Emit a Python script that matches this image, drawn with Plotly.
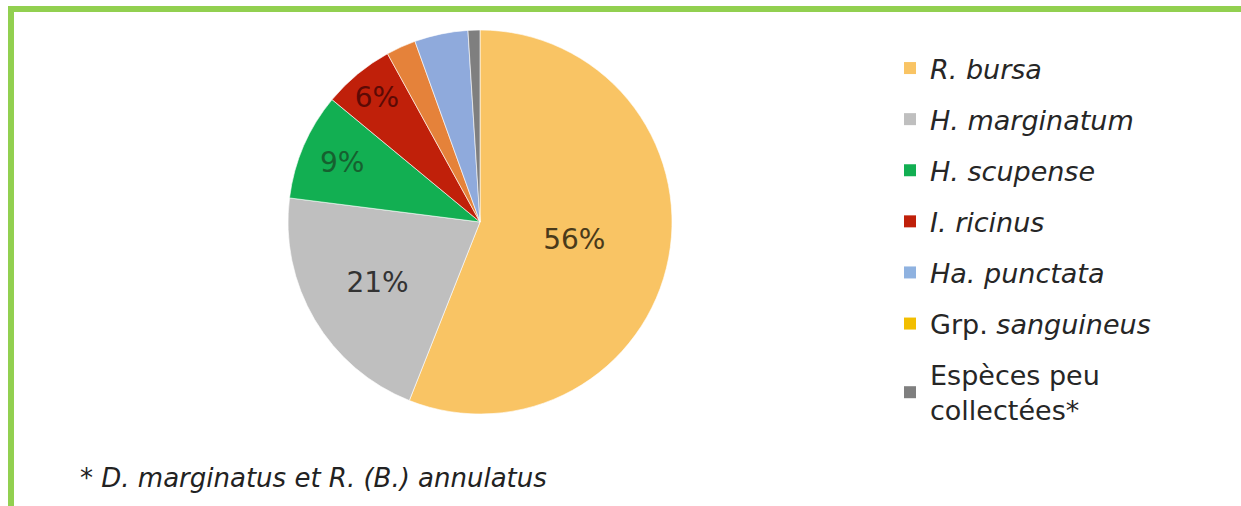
import plotly.graph_objects as go

# Data (pie order, clockwise from 12 o'clock)
species = ["R. bursa", "H. marginatum", "H. scupense", "I. ricinus",
           "Grp. sanguineus", "Ha. punctata", "Espèces peu collectées*"]
shares = [56, 21, 9, 6, 2.5, 4.5, 1]
pie_labels = ["56%", "21%", "9%", "6%", "", "", ""]
slice_colors = ["#F9C464", "#BFBFBF", "#12AF52", "#C0200A", "#E5823A", "#8FAADC", "#7F7F7F"]
label_colors = ["#4A3A1A", "#333333", "#16602F", "#5C0A05", "#000000", "#000000", "#000000"]

# Legend (order as in the reference legend)
legend_names = ["<i>R. bursa</i>", "<i>H. marginatum</i>", "<i>H. scupense</i>", "<i>I. ricinus</i>",
                "<i>Ha. punctata</i>", "Grp. <i>sanguineus</i>", "Espèces peu<br>collectées*"]
legend_colors = ["#F9C464", "#BFBFBF", "#12AF52", "#C0200A", "#8FB2E0", "#F2BE00", "#7F7F7F"]

footnote = "* <i>D. marginatus et R. (B.) annulatus</i>"

W, H = 1241, 506
cx, cy, r = 480, 222, 192

fig = go.Figure()
fig.add_trace(go.Pie(
    labels=species, values=shares, sort=False, direction="clockwise", rotation=0,
    marker=dict(colors=slice_colors, line=dict(color="rgba(255,255,255,0.6)", width=1)),
    text=pie_labels, textinfo="text", textposition="inside",
    insidetextfont=dict(family="DejaVu Sans", size=28, color=label_colors),
    insidetextorientation="horizontal",
    domain=dict(x=[(cx - r) / W, (cx + r) / W], y=[1 - (cy + r) / H, 1 - (cy - r) / H]),
    showlegend=False, hoverinfo="label+percent",
))

for i, (nm, col) in enumerate(zip(legend_names, legend_colors)):
    fig.add_trace(go.Scatter(
        x=[None], y=[None], mode="markers", name=nm, legendgroup=str(i),
        marker=dict(symbol="square", size=16, color=col),
        showlegend=True,
    ))

fig.add_annotation(text=footnote, x=78 / W, y=1 - 478 / H, xref="paper", yref="paper",
                   xanchor="left", yanchor="middle", showarrow=False,
                   font=dict(family="DejaVu Sans", size=26, color="#222222"))

# green frame (top and left edges)
fig.add_shape(type="rect", xref="paper", yref="paper", x0=8 / W, x1=1, y0=1 - 12 / H, y1=1 - 6 / H,
              fillcolor="#92D050", line=dict(width=0), layer="above")
fig.add_shape(type="rect", xref="paper", yref="paper", x0=8 / W, x1=14 / W, y0=0, y1=1 - 6 / H,
              fillcolor="#92D050", line=dict(width=0), layer="above")

fig.update_layout(
    width=W, height=H, margin=dict(l=0, r=0, t=0, b=0),
    paper_bgcolor="white", plot_bgcolor="white",
    xaxis=dict(visible=False), yaxis=dict(visible=False),
    legend=dict(x=890 / W, y=1 - 44 / H, xanchor="left", yanchor="top",
                font=dict(family="DejaVu Sans", size=27, color="#262626"),
                tracegroupgap=13, bgcolor="rgba(0,0,0,0)", itemsizing="constant"),
    showlegend=True,
)

fig.write_html("out.html", config={"displayModeBar": False},
               post_script="document.body.style.margin='0';")
